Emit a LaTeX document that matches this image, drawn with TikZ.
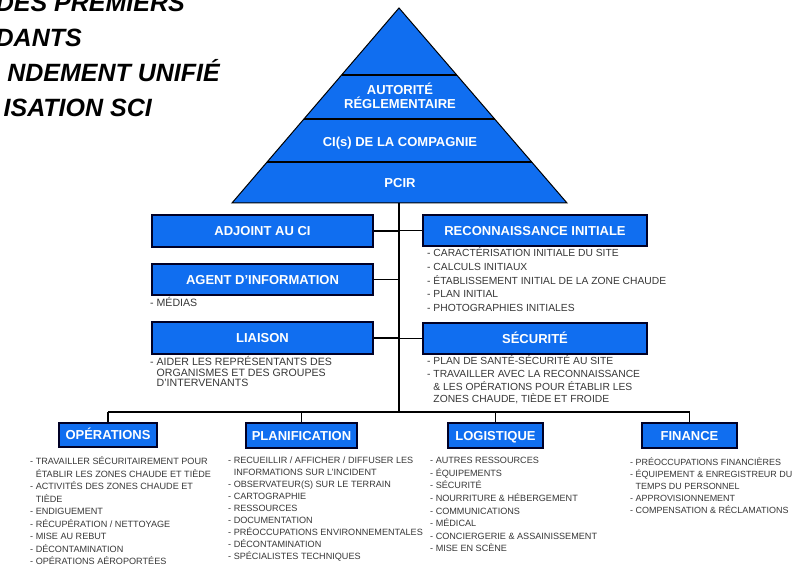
\documentclass[tikz,border=0pt]{standalone}
\usepackage{fontspec}
\setmainfont{Liberation Sans}
\usetikzlibrary{calc}
\definecolor{sciblue}{RGB}{16,110,240}
\definecolor{listgray}{RGB}{55,55,55}
\newcommand{\hang}{\phantom{- }}

\begin{document}
\begin{tikzpicture}[x=1pt,y=-1pt,
  wire/.style={draw=black, line width=1.1pt},
  box/.style={draw=black!85!blue, line width=1.6pt, fill=sciblue, text=white,
    font=\bfseries\fontsize{13}{15}\selectfont, inner sep=0pt,
    text height=9.4pt, text depth=0pt},
  pyrtext/.style={text=white, font=\bfseries\fontsize{13}{15}\selectfont,
    inner sep=0pt, anchor=base},
  itemlist/.style={text=listgray, align=left, inner sep=0pt, anchor=north west},
  title/.style={font=\bfseries\itshape\fontsize{25}{30}\selectfont,
    inner sep=0pt, anchor=base east}
]
\useasboundingbox (0,0) rectangle (809,569);
\fill[white] (0,0) rectangle (809,569);

% heading (cut by the page edge)
\node[title] (t1) at (185,12) {DES PREMIERS};
\node[title] (t2) at (82,47) {DANTS};
\node[title] (t3) at (220,82) {NDEMENT UNIFIÉ};
\node[title] (t4) at (152,117) {ISATION SCI};

% pyramid
\coordinate (apex) at (399,8);
\coordinate (pbl) at (232,203);
\coordinate (pbr) at (567,203);
\fill[sciblue] (apex) -- (pbl) -- (pbr) -- cycle;
\foreach \yy in {75,119,162}
  \draw[line width=2.6pt] ($(apex)!{(\yy-8)/195}!(pbl)$) -- ($(apex)!{(\yy-8)/195}!(pbr)$);
\draw[line width=1pt] (apex) -- (pbl) -- (pbr) -- cycle;
\node[pyrtext] (auth1) at (400,94.7) {AUTORITÉ};
\node[pyrtext] (auth2) at (400,108.7) {RÉGLEMENTAIRE};
\node[pyrtext] (cie) at (400,146.7) {CI(s) DE LA COMPAGNIE};
\node[pyrtext] (pcir) at (400,187.7) {PCIR};

% command staff
\node[box, minimum width=221pt, minimum height=32pt] (adj) at (262.5,231) {ADJOINT AU CI};
\node[box, minimum width=221pt, minimum height=31pt] (agent) at (262.5,279.5) {AGENT D'INFORMATION};
\node[box, minimum width=221pt, minimum height=32pt] (liaison) at (262.5,338) {LIAISON};
\node[box, minimum width=224pt, minimum height=31pt] (recon) at (535,230.5) {RECONNAISSANCE INITIALE};
\node[box, minimum width=224pt, minimum height=31pt] (secu) at (535,338.5) {SÉCURITÉ};

% general staff
\node[box, minimum width=98pt, minimum height=24pt] (ops) at (108,435) {OPÉRATIONS};
\node[box, minimum width=111pt, minimum height=25pt] (plan) at (301.5,435.5) {PLANIFICATION};
\node[box, minimum width=95pt, minimum height=25pt] (log) at (495.5,435.5) {LOGISTIQUE};
\node[box, minimum width=95pt, minimum height=25pt] (fin) at (689.5,435.5) {FINANCE};

% connectors
\coordinate (pbase) at (399,203);
\coordinate (bus) at (399,412);
\draw[wire] (pbase) -- (bus);
\foreach \n in {adj,agent,liaison} \draw[wire] (\n.east) -- (\n.east -| pbase);
\foreach \n in {recon,secu} \draw[wire] (\n.west) -- (\n.west -| pbase);
\draw[wire] (ops.north |- bus) -- (fin.north |- bus);
\foreach \n in {ops,plan,log,fin} \draw[wire] (\n.north |- bus) -- (\n.north);

% duty lists
\node[itemlist, font=\fontsize{10.6}{10.6}\selectfont] (lmed) at (150,296.5) {\rule{0pt}{10pt}- MÉDIAS};
\node[itemlist, font=\fontsize{10.6}{10.6}\selectfont] (lliai) at (150,355.5)
  {\rule{0pt}{10pt}- AIDER LES REPRÉSENTANTS DES\\ \hang ORGANISMES ET DES GROUPES\\ \hang D'INTERVENANTS};
\node[itemlist, font=\fontsize{10.3}{13.7}\selectfont] (lrecon) at (427,246.5)
  {\rule{0pt}{10pt}- CARACTÉRISATION INITIALE DU SITE\\ - CALCULS INITIAUX\\
   - ÉTABLISSEMENT INITIAL DE LA ZONE CHAUDE\\ - PLAN INITIAL\\ - PHOTOGRAPHIES INITIALES};
\node[itemlist, font=\fontsize{10.3}{12.7}\selectfont] (lsecu) at (427,354.5)
  {\rule{0pt}{10pt}- PLAN DE SANTÉ-SÉCURITÉ AU SITE\\ - TRAVAILLER AVEC LA RECONNAISSANCE\\
   \hang \& LES OPÉRATIONS POUR ÉTABLIR LES\\ \hang ZONES CHAUDE, TIÈDE ET FROIDE};
\node[itemlist, font=\fontsize{9.1}{12.5}\selectfont] (lops) at (30,454.5)
  {\rule{0pt}{10pt}- TRAVAILLER SÉCURITAIREMENT POUR\\ \hang ÉTABLIR LES ZONES CHAUDE ET TIÈDE\\
   - ACTIVITÉS DES ZONES CHAUDE ET\\ \hang TIÈDE\\ - ENDIGUEMENT\\ - RÉCUPÉRATION / NETTOYAGE\\
   - MISE AU REBUT\\ - DÉCONTAMINATION\\ - OPÉRATIONS AÉROPORTÉES};
\node[itemlist, font=\fontsize{9.1}{12}\selectfont] (lplan) at (228,453.5)
  {\rule{0pt}{10pt}- RECUEILLIR / AFFICHER / DIFFUSER LES\\ \hang INFORMATIONS SUR L'INCIDENT\\
   - OBSERVATEUR(S) SUR LE TERRAIN\\ - CARTOGRAPHIE\\ - RESSOURCES\\ - DOCUMENTATION\\
   - PRÉOCCUPATIONS ENVIRONNEMENTALES\\ - DÉCONTAMINATION\\ - SPÉCIALISTES TECHNIQUES};
\node[itemlist, font=\fontsize{9.1}{12.6}\selectfont] (llog) at (430,453.5)
  {\rule{0pt}{10pt}- AUTRES RESSOURCES\\ - ÉQUIPEMENTS\\ - SÉCURITÉ\\ - NOURRITURE \& HÉBERGEMENT\\
   - COMMUNICATIONS\\ - MÉDICAL\\ - CONCIERGERIE \& ASSAINISSEMENT\\ - MISE EN SCÈNE};
\node[itemlist, font=\fontsize{8.95}{12}\selectfont] (lfin) at (630,455.5)
  {\rule{0pt}{10pt}- PRÉOCCUPATIONS FINANCIÈRES\\ - ÉQUIPEMENT \& ENREGISTREUR DU\\
   \hang TEMPS DU PERSONNEL\\ - APPROVISIONNEMENT\\ - COMPENSATION \& RÉCLAMATIONS};
\end{tikzpicture}
\end{document}
